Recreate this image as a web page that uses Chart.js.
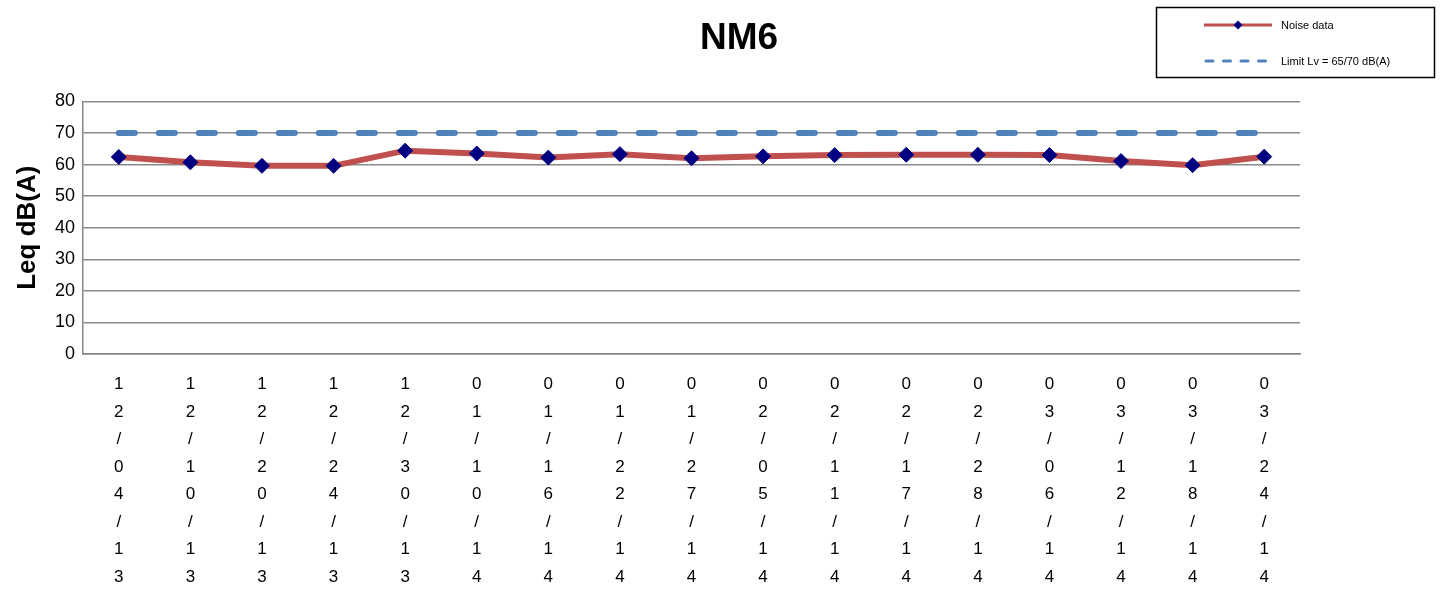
<!DOCTYPE html>
<html>
<head>
<meta charset="utf-8">
<script src="https://cdn.jsdelivr.net/npm/chart.js@4.4.1/dist/chart.umd.min.js"></script>
<style>
  html, body { margin: 0; padding: 0; background: #fff; }
  #wrap { width: 1444px; height: 589px; }
</style>
</head>
<body>
<div id="wrap"><canvas id="nm6Chart"></canvas></div>
<script>
  // Data
  const dates = [
    '12/04/13', '12/10/13', '12/20/13', '12/24/13', '12/30/13',
    '01/10/14', '01/16/14', '01/22/14', '01/27/14', '02/05/14',
    '02/11/14', '02/17/14', '02/28/14', '03/06/14', '03/12/14',
    '03/18/14', '03/24/14'
  ]
  const noiseValues = [
    62.4, 60.7, 59.6, 59.6, 64.4, 63.5, 62.2, 63.3, 62.0,
    62.6, 63.0, 63.1, 63.1, 63.0, 61.1, 59.8, 62.5
  ]
  const limitValues = [
    70, 70, 70, 70, 70, 70, 70, 70, 70,
    70, 70, 70, 70, 70, 70, 70, 70
  ]
  const yTicks = [0, 10, 20, 30, 40, 50, 60, 70, 80]

  const FONT = 'Arial, "Liberation Sans", sans-serif'

  // each date written one character per line, like the original axis
  const stackedLabels = dates.map(d => d.split(''))

  // legend in a framed box top right
  const boxLegend = {
    id: 'boxLegend',
    afterDraw(chart) {
      const ctx = chart.ctx
      const sets = chart.data.datasets
      ctx.save()
      ctx.strokeStyle = '#000'
      ctx.lineWidth = 1.5
      ctx.strokeRect(1156.5, 7.5, 278, 70)

      const rows = [25, 61]
      sets.forEach((ds, i) => {
        const y = rows[i]
        ctx.beginPath()
        ctx.strokeStyle = ds.borderColor
        ctx.lineWidth = 3
        ctx.lineCap = ds.borderDash ? 'round' : 'butt'
        ctx.setLineDash(ds.borderDash ? [7, 10.5] : [])
        ctx.moveTo(ds.borderDash ? 1206 : 1204, y)
        ctx.lineTo(1272, y)
        ctx.stroke()
        ctx.setLineDash([])
        if (ds.pointRadius > 0) {
          ctx.fillStyle = ds.pointBackgroundColor
          ctx.beginPath()
          ctx.moveTo(1238, y - 4.5)
          ctx.lineTo(1242.5, y)
          ctx.lineTo(1238, y + 4.5)
          ctx.lineTo(1233.5, y)
          ctx.closePath()
          ctx.fill()
        }
        ctx.fillStyle = '#000'
        ctx.font = '11px ' + FONT
        ctx.textBaseline = 'middle'
        ctx.textAlign = 'left'
        ctx.fillText(ds.label, 1281, y + 1)
      })
      ctx.restore()
    }
  }

  const ctx = document.getElementById('nm6Chart')
  // eslint-disable-next-line no-unused-vars
  const nm6Chart = new Chart(ctx, {
    type: 'line',
    data: {
      labels: stackedLabels,
      datasets: [{
        label: 'Noise data',
        data: noiseValues,
        borderColor: '#C0504D',
        borderWidth: 6,
        lineTension: 0,
        pointStyle: 'rectRot',
        pointRadius: 7.5,
        pointBorderWidth: 1,
        pointBackgroundColor: '#000080',
        pointBorderColor: '#000080',
        order: 1
      }, {
        label: 'Limit Lv = 65/70 dB(A)',
        data: limitValues,
        borderColor: '#4F81BD',
        borderWidth: 6,
        borderDash: [16, 24],
        borderCapStyle: 'round',
        lineTension: 0,
        pointRadius: 0,
        order: 2
      }]
    },
    options: {
      responsive: true,
      maintainAspectRatio: false,
      animation: false,
      layout: { padding: { left: 34, right: 0, top: 0, bottom: -11 } },
      scales: {
        x: {
          offset: true,
          grid: { display: false },
          border: { display: true, color: '#868686', width: 1.5 },
          ticks: {
            autoSkip: false,
            maxRotation: 0,
            minRotation: 0,
            padding: 9,
            color: '#000',
            font: { family: FONT, size: 17, lineHeight: '27.5px' }
          }
        },
        y: {
          min: 0,
          max: 80,
          afterBuildTicks: axis => { axis.ticks = yTicks.map(v => ({ value: v })) },
          afterFit: axis => { axis.width = 49 },
          grid: { color: '#8a8a8a', lineWidth: 1.5, drawTicks: false },
          border: { display: true, color: '#868686', width: 1.5 },
          ticks: {
            padding: 8,
            color: '#000',
            font: { family: FONT, size: 18 }
          },
          title: {
            display: true,
            text: 'Leq dB(A)',
            color: '#000',
            padding: { top: -22, bottom: 0 },
            font: { family: FONT, size: 26, weight: 'bold' }
          }
        },
        yRight: {
          position: 'right',
          display: true,
          afterFit: axis => { axis.width = 144 },
          grid: { display: false, drawOnChartArea: false },
          border: { display: false },
          ticks: { display: false }
        }
      },
      plugins: {
        legend: { display: false },
        tooltip: { enabled: false },
        title: {
          display: true,
          text: 'NM6',
          color: '#000',
          padding: { top: 17, bottom: 40 },
          font: { family: FONT, size: 37, weight: 'bold' }
        }
      }
    },
    plugins: [boxLegend]
  })
</script>
</body>
</html>
